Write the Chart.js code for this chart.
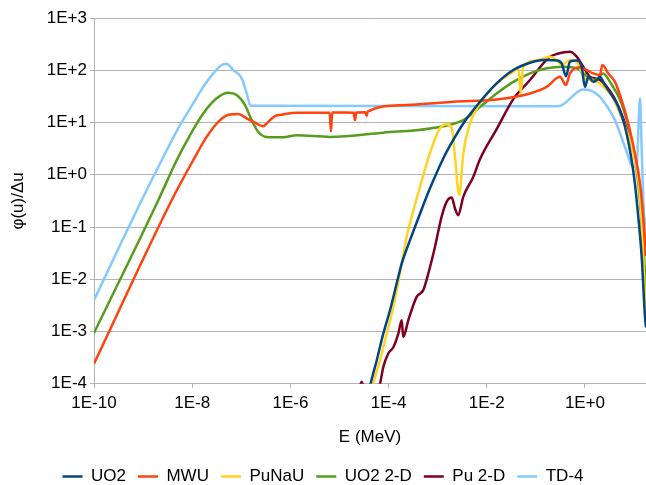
<!DOCTYPE html>
<html>
<head>
<meta charset="utf-8">
<script src="https://cdn.jsdelivr.net/npm/chart.js@4.4.1/dist/chart.umd.min.js"></script>
<style>
  html, body { margin: 0; padding: 0; background: #fff; }
  #wrap { position: relative; width: 646px; height: 485px; }
</style>
</head>
<body>
<div id="wrap"><canvas id="fluxChart"></canvas></div>
<script>
// series names and colours
const seriesNames = ["UO2", "MWU", "PuNaU", "UO2 2-D", "Pu 2-D", "TD-4"];
const seriesColors = ["#004586", "#ff420e", "#ffd320", "#579d1c", "#7e0021", "#83caff"];

// axis ticks (decades)
const xTickValues = [1e-10, 1e-8, 1e-6, 1e-4, 1e-2, 1e0];
const yTickValues = [1e-4, 1e-3, 1e-2, 1e-1, 1e0, 1e1, 1e2, 1e3];

// UO2
const uo2E = [4.0e-5, 4.31e-5, 5.73e-5, 7.8e-5, 1.07e-4, 1.46e-4, 1.85e-4, 2.73e-4, 4.37e-4, 6.97e-4, 1.3e-3, 1.78e-3, 3.32e-3, 7.3e-3, 0.0159, 0.0347, 0.0759, 0.142, 0.265, 0.335, 0.41, 0.495, 0.678, 0.856, 1.0, 1.17, 1.48, 1.73, 2.02, 2.55, 3.5, 4.77, 6.53, 8.93, 10.4, 12.2, 14.3, 16.7, 17.5];
const uo2Phi = [7e-5, 1.0e-4, 2.8e-4, 9.1e-4, 2.55e-3, 8.3e-3, 0.02, 0.056, 0.18, 0.55, 2.05, 3.6, 9.6, 25, 56, 101, 139, 157, 154, 136, 77, 146, 154, 117, 48, 75, 60, 65, 74, 52, 33.5, 20, 8.3, 1.9, 0.68, 0.156, 0.0267, 1.9e-3, 1.2e-3];

// MWU
const mwuE = [1e-10, 3.82e-9, 1.05e-8, 1.97e-8, 3.68e-8, 5.88e-8, 8.69e-8, 1.29e-7, 1.9e-7, 2.8e-7, 3.55e-7, 4.86e-7, 7.16e-7, 1.34e-6, 3.0e-6, 6.3e-6, 6.71e-6, 7.1e-6, 1.3e-5, 1.95e-5, 2.07e-5, 2.2e-5, 3.4e-5, 3.58e-5, 3.75e-5, 1.99e-4, 6.97e-4, 2.08e-3, 0.0159, 0.0759, 0.166, 0.31, 0.41, 0.495, 0.79, 1.08, 1.48, 2.02, 2.25, 2.98, 4.08, 5.58, 7.62, 10.4, 13.2, 15.4, 17.2, 17.5];
const mwuPhi = [2.43e-4, 0.326, 1.9, 5.3, 11.1, 14.3, 14.5, 12, 9.9, 8.5, 10.3, 13.3, 14.3, 15.3, 15.3, 15.3, 6.8, 15.5, 15.5, 15.3, 11.1, 15.5, 15.8, 13.3, 16.2, 21.5, 23.2, 25, 27.7, 36, 48, 75, 52, 87, 114, 101, 87, 81, 126, 87, 60, 26.8, 9.6, 2.56, 0.68, 0.156, 0.036, 0.028];

// PuNaU
const punauE = [4.5e-5, 4.87e-5, 6.68e-5, 9.14e-5, 1.25e-4, 1.85e-4, 2.34e-4, 2.95e-4, 4.37e-4, 6.97e-4, 1.11e-3, 1.52e-3, 1.93e-3, 2.25e-3, 2.75e-3, 3.32e-3, 4.55e-3, 7.3e-3, 0.0159, 0.0347, 0.0439, 0.049, 0.0554, 0.104, 0.194, 0.265, 0.335, 0.495, 0.73, 0.923, 1.26, 2.02, 2.77, 3.77, 5.16, 7.06, 9.64, 13.2, 17.5];
const punauPhi = [7e-5, 1.0e-4, 2.8e-4, 9.1e-4, 2.94e-3, 0.02, 0.065, 0.156, 0.59, 2.6, 7.7, 9.3, 8.0, 2.2, 0.41, 2.56, 9.6, 23.2, 56, 94, 109, 36, 117, 154, 182, 157, 126, 157, 132, 75, 65, 56, 42, 29, 14.9, 7.1, 2.56, 0.41, 1.8e-3];

// UO2 2-D
const uo22dE = [1e-10, 2.04e-9, 4.83e-9, 9.0e-9, 1.68e-8, 3.16e-8, 5.44e-8, 8.06e-8, 1.19e-7, 1.63e-7, 2.22e-7, 3.29e-7, 7.16e-7, 1.34e-6, 6.41e-6, 7.8e-5, 6.97e-4, 3.32e-3, 7.3e-3, 0.0159, 0.0347, 0.0759, 0.166, 0.361, 0.678, 1.08, 1.6, 2.36, 3.23, 5.58, 8.93, 12.2, 16.0, 17.5];
const uo22dPhi = [9.35e-4, 0.326, 1.9, 5.7, 14.9, 29, 37, 33.5, 21.5, 11.1, 6.6, 5.3, 5.2, 5.7, 5.3, 6.4, 7.7, 11.1, 20, 36, 60, 87, 109, 117, 109, 78, 65, 87, 60, 23, 4.6, 0.68, 0.027, 0.005];

// Pu 2-D
const pu2dE = [2.5e-5, 2.83e-5, 3.2e-5, 5e-5, 6.68e-5, 7.8e-5, 9.86e-5, 1.25e-4, 1.58e-4, 1.85e-4, 1.99e-4, 2.52e-4, 3.73e-4, 5.09e-4, 6.44e-4, 8.8e-4, 1.2e-3, 1.52e-3, 1.93e-3, 2.25e-3, 2.62e-3, 3.32e-3, 5.3e-3, 7.3e-3, 0.0159, 0.0347, 0.0759, 0.142, 0.194, 0.265, 0.495, 0.678, 0.923, 1.26, 2.02, 3.77, 5.16, 7.06, 9.64, 13.2, 17.5];
const pu2dPhi = [8e-5, 1.1e-4, 8e-5, 5e-5, 1.0e-4, 2.09e-4, 3.8e-4, 5.0e-4, 9.1e-4, 1.64e-3, 7.9e-4, 1.64e-3, 4.6e-3, 6.2e-3, 0.0129, 0.0416, 0.156, 0.303, 0.367, 0.226, 0.168, 0.377, 0.91, 2.0, 7.5, 28, 65, 136, 182, 204, 226, 182, 117, 75, 65, 32, 17.3, 7.8, 2.96, 0.46, 2.5e-3];

// TD-4
const td4E = [1e-10, 9.35e-10, 2.39e-9, 5.65e-9, 1.05e-8, 1.68e-8, 2.69e-8, 3.99e-8, 5.04e-8, 6.87e-8, 1.02e-7, 1.29e-7, 1.55e-7, 0.286, 0.923, 1.21, 2.02, 2.55, 4.08, 6.53, 9.64, 11.3, 13.2, 14.3, 15.4, 17.2, 17.5];
const td4Phi = [4.0e-3, 0.326, 1.9, 8.9, 23.2, 48, 87, 126, 132, 101, 70, 36, 21, 20.5, 43, 42, 31, 23.2, 11.1, 3.4, 1.42, 1.5, 29, 2.96, 0.326, 0.076, 0.06];

const seriesE = [uo2E, mwuE, punauE, uo22dE, pu2dE, td4E];
const seriesPhi = [uo2Phi, mwuPhi, punauPhi, uo22dPhi, pu2dPhi, td4Phi];

const fmtPow = (v) => {
  const e = Math.round(Math.log10(v));
  return "1E" + (e >= 0 ? "+" : "") + e;
};

Chart.defaults.font.family = "'Liberation Sans', Arial, sans-serif";
Chart.defaults.font.size = 17;
Chart.defaults.color = "#000";

const datasets = seriesNames.map((name, i) => ({
  label: name,
  data: seriesE[i].map((e, j) => ({ x: e, y: seriesPhi[i][j] })),
  borderColor: seriesColors[i],
  backgroundColor: seriesColors[i],
  borderWidth: 2.5,
  pointRadius: 0,
  cubicInterpolationMode: "monotone",
  fill: false,
}));

const ctx = document.getElementById("fluxChart").getContext("2d");
new Chart(ctx, {
  type: "line",
  data: { datasets },
  options: {
    responsive: true,
    maintainAspectRatio: false,
    animation: false,
    layout: { padding: { top: 18, right: 0, bottom: -10, left: 0 } },
    scales: {
      x: {
        type: "logarithmic",
        min: 1e-10,
        max: 17.5,
        bounds: "data",
        afterBuildTicks: (scale) => {
          scale.ticks = xTickValues.map((v) => ({ value: v }));
        },
        afterFit: (scale) => { scale.height = 72.2; },
        ticks: { callback: fmtPow, maxRotation: 0, autoSkip: false, padding: 5 },
        grid: { drawOnChartArea: false, drawTicks: true, tickLength: 4, color: "#b3b3b3" },
        border: { display: true, color: "#b3b3b3" },
        title: { display: true, text: "E (MeV)", padding: { top: 8, bottom: 8 } },
      },
      y: {
        type: "logarithmic",
        min: 1e-4,
        max: 1e3,
        bounds: "data",
        afterBuildTicks: (scale) => {
          scale.ticks = yTickValues.map((v) => ({ value: v }));
        },
        afterFit: (scale) => { scale.width = 94; },
        ticks: { callback: fmtPow, padding: 3 },
        grid: { color: "#b3b3b3", tickLength: 4 },
        border: { display: true, color: "#b3b3b3" },
        title: { display: true, text: "φ(u)/Δu", padding: { top: 8, bottom: 8 } },
      },
    },
    plugins: {
      legend: {
        position: "bottom",
        labels: {
          usePointStyle: true,
          pointStyle: "line",
          pointStyleWidth: 20,
          padding: 12,
        },
      },
      tooltip: { enabled: false },
    },
  },
});
</script>
</body>
</html>
